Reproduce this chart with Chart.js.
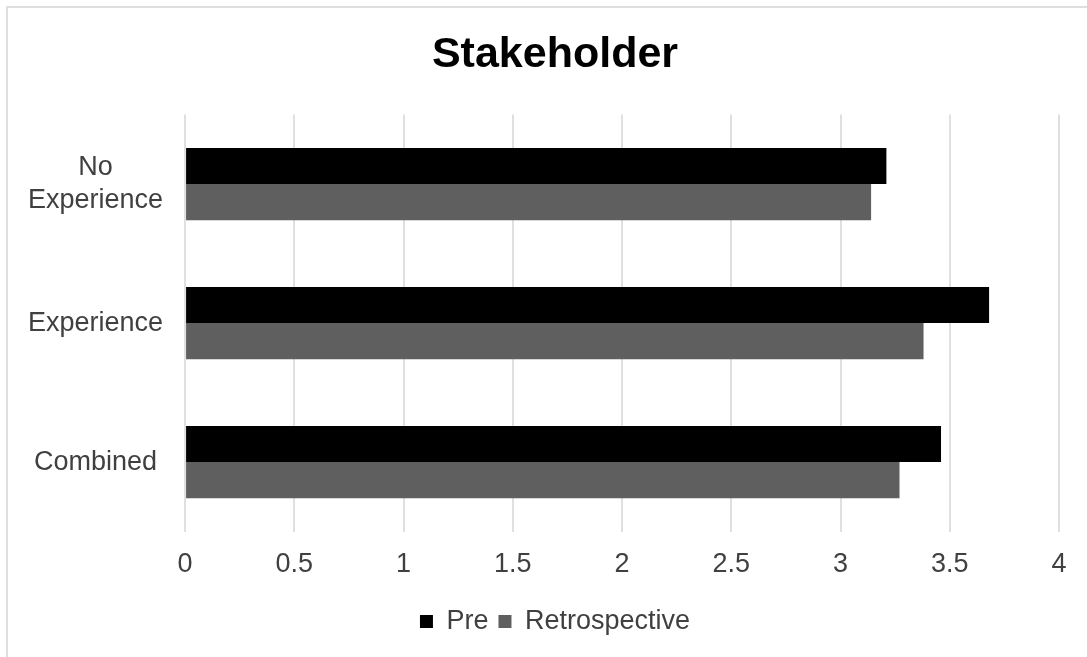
<!DOCTYPE html>
<html>
<head>
<meta charset="utf-8">
<title>Stakeholder</title>
<script src="https://cdn.jsdelivr.net/npm/chart.js@4/dist/chart.umd.min.js"></script>
<style>
  html, body { margin: 0; padding: 0; background: #fff; overflow: hidden; }
  #frame {
    position: absolute; left: 6px; top: 6px; width: 1110px; height: 670px;
    border: 2px solid #dedede;
  }
  #wrap { position: absolute; left: 0; top: 0; width: 1104px; height: 657px; }
</style>
</head>
<body>
<div id="frame"></div>
<div id="wrap"><canvas id="stakeChart" width="1104" height="657"></canvas></div>
<script>
// groups shown on the category axis, top to bottom
const groups = [['No', 'Experience'], 'Experience', 'Combined'];
// mean ratings per group
const preScores = [3.21, 3.68, 3.46];
const retroScores = [3.14, 3.38, 3.27];
// value axis ticks
const tickValues = [0, 0.5, 1, 1.5, 2, 2.5, 3, 3.5, 4];

const labelFont = { family: '"Liberation Sans", Arial, sans-serif', size: 27 };

const ctx = document.getElementById('stakeChart').getContext('2d');

const chart = new Chart(ctx, {
  type: 'bar',
  data: {
    labels: groups,
    datasets: [{
      label: 'Pre',
      data: preScores,
      backgroundColor: '#000000',
      barPercentage: 1,
      categoryPercentage: 0.52
    }, {
      label: 'Retrospective',
      data: retroScores,
      backgroundColor: '#5f5f5f',
      barPercentage: 1,
      categoryPercentage: 0.52
    }]
  },
  options: {
    indexAxis: 'y',
    responsive: false,
    animation: false,
    layout: {
      padding: { left: 6, right: 0, top: 29, bottom: 12 }
    },
    plugins: {
      title: {
        display: true,
        text: 'Stakeholder',
        color: '#000',
        font: { family: '"Liberation Sans", Arial, sans-serif', size: 43, weight: 'bold' },
        padding: { top: 0, bottom: 34 }
      },
      legend: {
        position: 'bottom',
        labels: {
          color: '#404040',
          font: labelFont,
          boxWidth: 13,
          boxHeight: 13,
          padding: 10
        }
      },
      tooltip: { enabled: false }
    },
    scales: {
      x: {
        min: 0,
        max: 4,
        afterBuildTicks: (axis) => {
          axis.ticks = tickValues.map(v => ({ value: v }));
        },
        ticks: {
          color: '#404040',
          font: labelFont,
          padding: 17,
          callback: (v) => String(v)
        },
        grid: { color: '#e0e0e0', lineWidth: 2, drawTicks: false },
        border: { display: false }
      },
      y: {
        ticks: {
          color: '#404040',
          font: labelFont,
          padding: 22,
          crossAlign: 'center'
        },
        grid: { display: false, drawTicks: false },
        border: { display: false }
      },
      // empty right margin so the plot ends where the frame's centre allows
      yRight: {
        type: 'category',
        position: 'right',
        ticks: { display: false },
        grid: { display: false, drawTicks: false },
        border: { display: false },
        afterFit: (axis) => { axis.width = 45; }
      }
    }
  }
});
</script>
</body>
</html>
